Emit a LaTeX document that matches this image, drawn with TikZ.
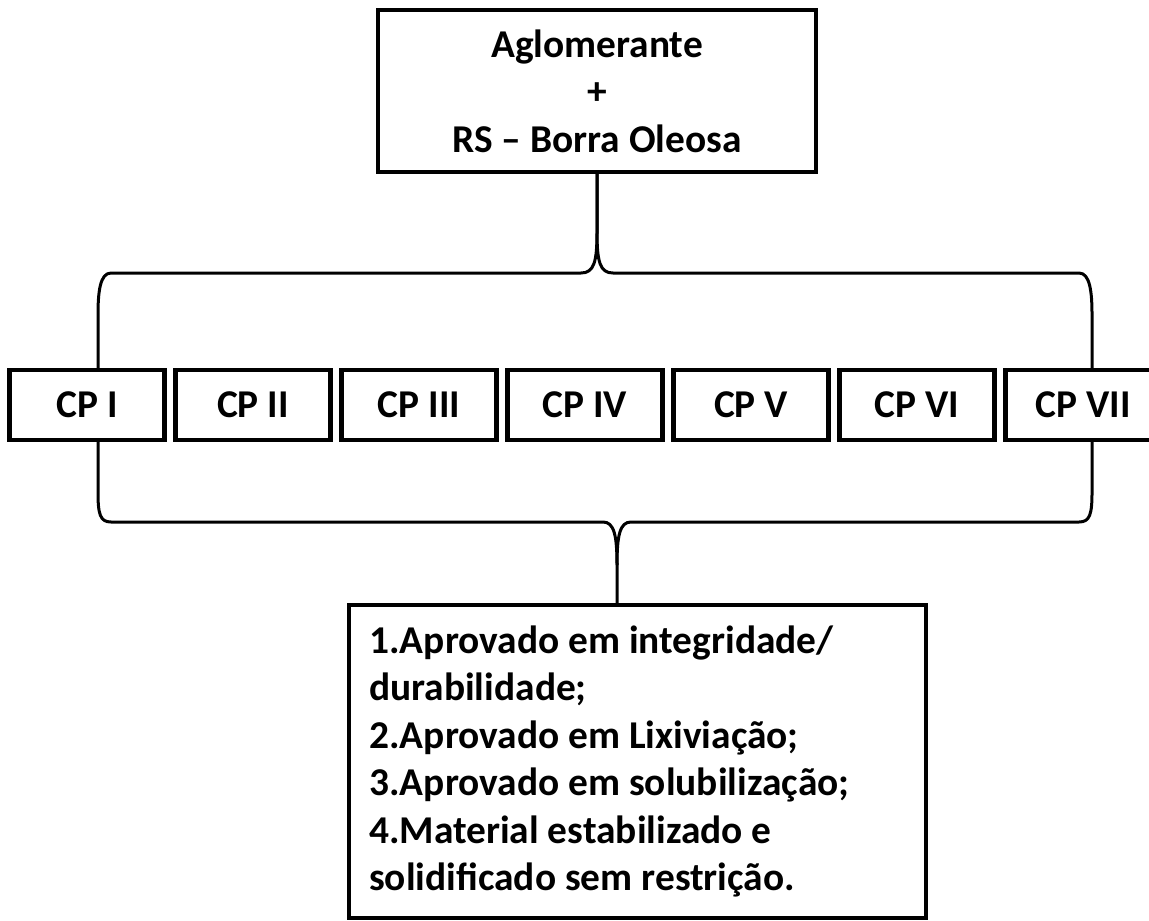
\documentclass[tikz,border=0pt]{standalone}
\usepackage{fontspec}
\setmainfont{Carlito}

\tikzset{
	box/.style={draw, line width=2.2pt, font=\bfseries\fontsize{19.7}{23.75}\selectfont},
	cpbox/.style={box, minimum width=77.5pt, minimum height=35pt, inner sep=0pt},
	brace/.style={draw, line width=1.5pt, line join=round}
}

\begin{document}
\begin{tikzpicture}[x=0.5pt, y=-0.5pt]
	\clip (0, 0) rectangle (1149, 920);
	\node[box, minimum width=219pt, minimum height=81pt, align=center] (top) at (597, 91) {Aglomerante\\+\\RS -- Borra Oleosa};
	\foreach \r [count=\i] in {I, II, III, IV, V, VI, VII}
		\node[cpbox] (cp\i) at ({87 + 166*(\i - 1)}, 405) {CP \r};
	\node[box, anchor=north west, text width=268.5pt, minimum height=156.5pt, inner xsep=10pt, align=flush left] (res) at (347, 603) {1.Aprovado em integridade/\\durabilidade;\\2.Aprovado em Lixiviação;\\3.Aprovado em solubilização;\\4.Material estabilizado e\\solidificado sem restrição.};

	% brace above the CP boxes
	\coordinate (ul) at (98, 315);
	\coordinate (ur) at (1092, 315);
	\draw[brace] (top.south) -- (597, 232) .. controls (597, 262) and (594, 273) .. (581, 273) -- (111, 273) .. controls (100, 273) and (98, 292) .. (ul) -- (ul |- cp1.north);
	\draw[brace] (top.south) -- (597, 232) .. controls (597, 262) and (600, 273) .. (613, 273) -- (1079, 273) .. controls (1090, 273) and (1092, 292) .. (ur) -- (ur |- cp7.north);

	% brace below the CP boxes
	\coordinate (ll) at (98, 492);
	\coordinate (lr) at (1092, 492);
	\coordinate (lt) at (617, 565);
	\draw[brace] (ll |- cp1.south) -- (ll) .. controls (98, 514) and (100, 522) .. (111, 522) -- (603, 522) .. controls (614, 522) and (617, 535) .. (lt) -- (lt |- res.north);
	\draw[brace] (lr |- cp7.south) -- (lr) .. controls (1092, 514) and (1090, 522) .. (1079, 522) -- (631, 522) .. controls (620, 522) and (617, 535) .. (lt);
\end{tikzpicture}
\end{document}
